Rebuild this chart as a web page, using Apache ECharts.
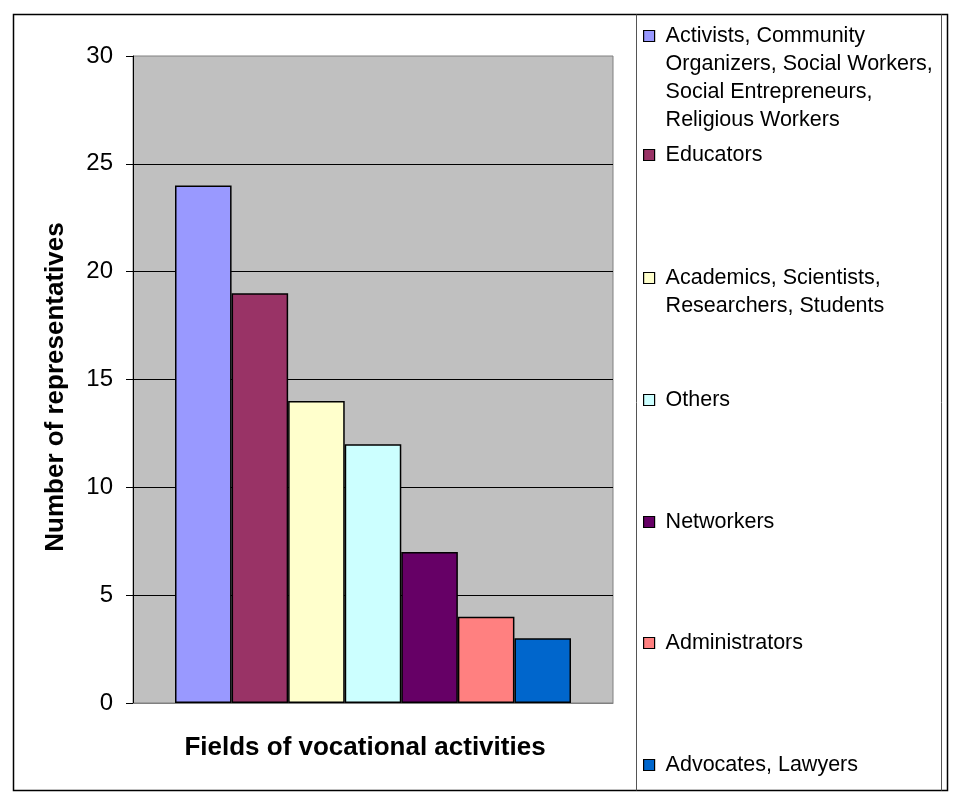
<!DOCTYPE html>
<html>
<head>
<meta charset="utf-8">
<script src="https://cdn.jsdelivr.net/npm/echarts@6/dist/echarts.min.js"></script>
<style>
html,body{margin:0;padding:0;background:#fff;}
#chart{width:956px;height:793px;}
</style>
</head>
<body>
<div id="chart"></div>
<script>
const categories = [''];
const seriesNames = [
  'Activists, Community\nOrganizers, Social Workers,\nSocial Entrepreneurs,\nReligious Workers',
  'Educators',
  'Academics, Scientists,\nResearchers, Students',
  'Others',
  'Networkers',
  'Administrators',
  'Advocates, Lawyers'
];
const seriesValues = [24, 19, 14, 12, 7, 4, 3];
const seriesColors = ['#9999FF', '#993366', '#FFFFCC', '#CCFFFF', '#660066', '#FF8080', '#0066CC'];
const yTicks = [0, 5, 10, 15, 20, 25, 30];

const FONT = '"Liberation Sans", Arial, sans-serif';
const LINE_H = 28;
const legendCenters = [36, 155, 278, 400, 522, 643, 765];

const chart = echarts.init(document.getElementById('chart'), null, {renderer: 'canvas'});

const series = seriesNames.map((n, i) => ({
  name: n,
  type: 'bar',
  data: [seriesValues[i]],
  barGap: '0%',
  barCategoryGap: '17.5%',
  itemStyle: {color: seriesColors[i], borderColor: '#000', borderWidth: 1.5},
  emphasis: {disabled: true},
  animation: false
}));

function legendFormatter(name) {
  const lines = name.split('\n');
  const blanks = [];
  for (let k = 0; k < lines.length - 1; k++) blanks.push('{sp|}');
  return blanks.concat(lines.map(l => '{sp|}{t|' + l + '}')).join('\n');
}

const legends = seriesNames.map((n, i) => {
  const lines = n.split('\n').length;
  const boxH = (2 * lines - 1) * LINE_H;
  return {
    data: [n],
    orient: 'vertical',
    left: 643,
    top: legendCenters[i] - boxH / 2,
    padding: 0,
    itemWidth: 11,
    itemHeight: 11,
    itemGap: 0,
    icon: 'rect',
    selectedMode: false,
    formatter: legendFormatter,
    itemStyle: {borderColor: '#000', borderWidth: 1.2},
    textStyle: {
      fontFamily: FONT, fontSize: 21.5, color: '#000', lineHeight: LINE_H,
      rich: {
        sp: {width: 6, height: LINE_H, lineHeight: LINE_H},
        t: {fontFamily: FONT, fontSize: 21.5, color: '#000', lineHeight: LINE_H}
      }
    }
  };
});

const option = {
  backgroundColor: '#fff',
  animation: false,
  grid: {
    left: 133, top: 56, width: 480, height: 647,
    show: true, backgroundColor: '#C0C0C0', borderColor: '#808080', borderWidth: 1
  },
  xAxis: {
    type: 'category',
    data: categories,
    name: 'Fields of vocational activities',
    nameLocation: 'middle',
    nameGap: 32,
    nameTextStyle: {fontFamily: FONT, fontWeight: 'bold', fontSize: 26, color: '#000', padding: [0, 16, 0, 0]},
    axisLine: {show: true, lineStyle: {color: '#808080', width: 1}},
    axisTick: {show: false},
    axisLabel: {show: false}
  },
  yAxis: {
    type: 'value',
    min: yTicks[0],
    max: yTicks[yTicks.length - 1],
    interval: 5,
    name: 'Number of representatives',
    nameLocation: 'middle',
    nameRotate: 90,
    nameGap: 64,
    nameTextStyle: {fontFamily: FONT, fontWeight: 'bold', fontSize: 26, color: '#000', padding: [0, 15, 0, 0]},
    axisLine: {show: true, lineStyle: {color: '#000', width: 1}},
    axisTick: {show: true, inside: false, length: 7, lineStyle: {color: '#000'}},
    axisLabel: {fontFamily: FONT, fontSize: 24, color: '#000', margin: 20},
    splitLine: {show: true, showMinLine: false, showMaxLine: false, lineStyle: {color: '#000', width: 1}}
  },
  legend: legends,
  series: series,
  graphic: [
    {type: 'rect', silent: true, z: 100, shape: {x: 13.5, y: 14.5, width: 934, height: 776},
     style: {fill: null, stroke: '#000', lineWidth: 1.5}},
    {type: 'line', silent: true, z: 100, shape: {x1: 636.5, y1: 14.5, x2: 636.5, y2: 790.5},
     style: {stroke: '#555', lineWidth: 1}},
    {type: 'line', silent: true, z: 100, shape: {x1: 941.5, y1: 14.5, x2: 941.5, y2: 790.5},
     style: {stroke: '#555', lineWidth: 1}}
  ]
};

chart.setOption(option);
</script>
</body>
</html>
